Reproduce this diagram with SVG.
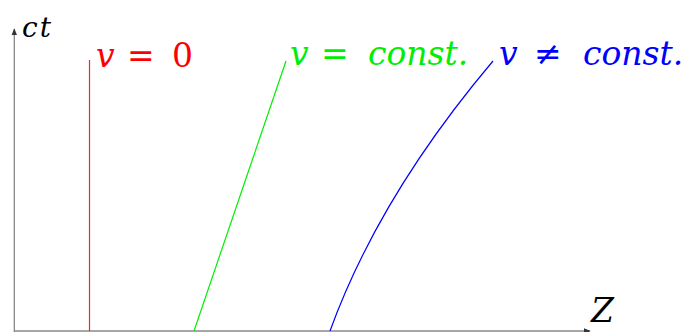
<svg xmlns="http://www.w3.org/2000/svg" width="688" height="332" viewBox="0 0 688 332">
<style>
.lbl{font-family:"DejaVu Serif","Liberation Serif",serif;font-size:33px}
.i{font-style:italic}
.axis{stroke:#888;stroke-width:1.3;fill:none}
.wl{fill:none;stroke-width:1.2}
</style>
<defs>
<marker id="ah" viewBox="0 0 10 10" refX="9" refY="5" markerWidth="7" markerHeight="7" markerUnits="userSpaceOnUse" orient="auto">
<path d="M0,1 L10,5 L0,9 Z" fill="#333"/>
</marker>
</defs>
<g id="axes">
<line class="axis" x1="14.3" y1="332" x2="14.3" y2="29" marker-end="url(#ah)"/>
<line class="axis" x1="14" y1="331" x2="590" y2="331" marker-end="url(#ah)"/>
</g>
<g id="connectors">
<line id="wl-rest" class="wl" stroke="#ff2020" x1="89.5" y1="331" x2="89.5" y2="60"/>
<line id="wl-const" class="wl" stroke="#00ee00" x1="194" y1="331" x2="286" y2="61"/>
<path id="wl-accel" class="wl" stroke="#0000ff" d="M330,331 Q379,196 493,61"/>
</g>
<g id="label-ct"><text class="lbl i" x="22" y="37" style="font-size:28px;letter-spacing:2px" fill="#000">ct</text></g>
<g id="label-z"><text class="lbl i" x="591" y="322" fill="#000">Z</text></g>
<g id="label-rest"><text class="lbl" y="66.5" fill="#ff0000"><tspan class="i" x="96">v </tspan><tspan x="127">= </tspan><tspan x="172">0</tspan></text></g>
<g id="label-const"><text class="lbl" y="65" fill="#00ee00"><tspan class="i" x="290">v </tspan><tspan x="321">= </tspan><tspan class="i" x="368">const.</tspan></text></g>
<g id="label-accel"><text class="lbl" y="65" fill="#0000ff"><tspan class="i" x="499">v </tspan><tspan x="534">≠ </tspan><tspan class="i" x="583">const.</tspan></text></g>
</svg>
